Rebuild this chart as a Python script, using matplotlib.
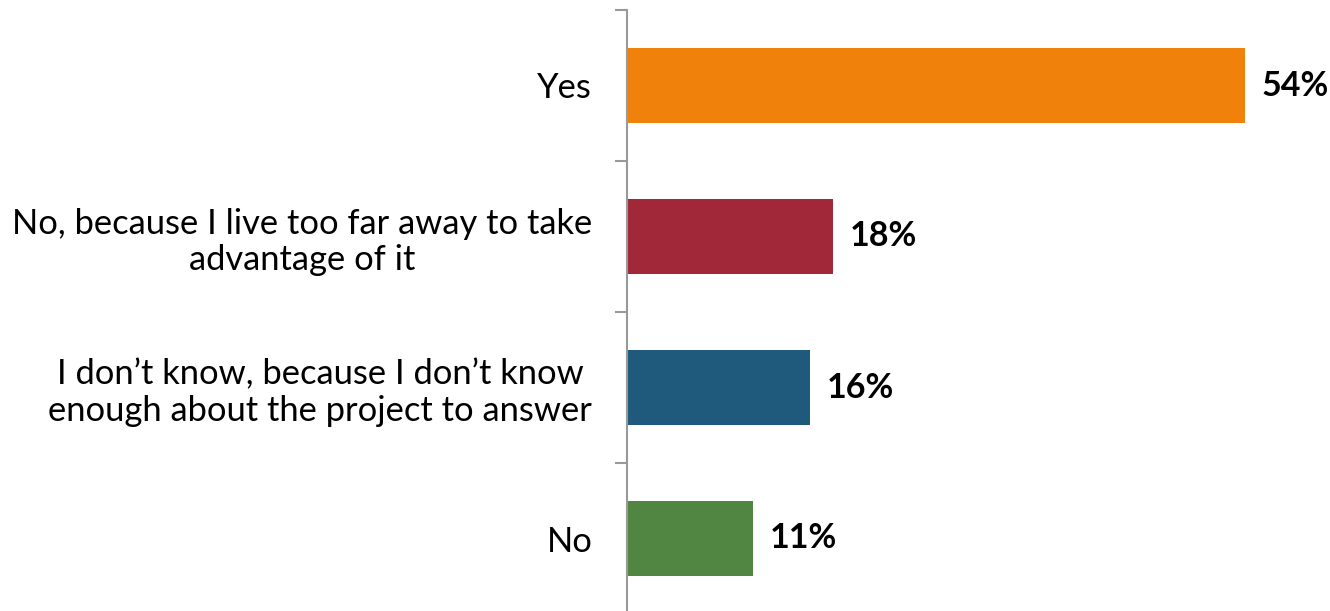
import matplotlib
matplotlib.use("Agg")
import matplotlib.pyplot as plt

categories = ["Yes",
              "No, because I live too far away to take\nadvantage of it",
              "I don\u2019t know, because I don\u2019t know\nenough about the project to answer",
              "No"]
values = [54, 18, 16, 11]
value_labels = ["54%", "18%", "16%", "11%"]
colors = ["#F0820C", "#A12838", "#1F5A7D", "#508642"]

plt.rcParams['font.family'] = ['Lato', 'DejaVu Sans']

fig = plt.figure(figsize=(13.3, 6.11), dpi=100)
ax = fig.add_axes([627/1330, -3/611, 1 - 627/1330, 1 - 7/611])

ypos = list(range(len(categories)))
ax.barh(ypos, values, height=0.5, color=colors)
ax.set_ylim(len(categories) - 0.5, -0.5)
ax.set_xlim(0, 703/11.444)

for y, v, lab in zip(ypos, values, value_labels):
    ax.annotate(lab, (v, y), xytext=(12, 0), textcoords="offset points",
                ha="left", va="center", fontsize=24.5, fontweight="bold", color="black")

ax.set_yticks([-0.5 + i for i in range(len(categories) + 1)], minor=False)
ax.set_yticklabels([])
ax.set_yticks(ypos, minor=True)
ax.set_yticklabels(categories, minor=True, fontsize=24.8, ha="right",
                   multialignment="center", linespacing=1.17)
ax.tick_params(axis="y", which="major", length=9, width=1.5, color="#999999")
ax.tick_params(axis="y", which="minor", length=0, pad=25)
ax.set_xticks([])
for s in ["top", "right", "bottom"]:
    ax.spines[s].set_visible(False)
ax.spines["left"].set_color("#999999")
ax.spines["left"].set_linewidth(1.5)

fig.savefig("out.png", dpi=100)
